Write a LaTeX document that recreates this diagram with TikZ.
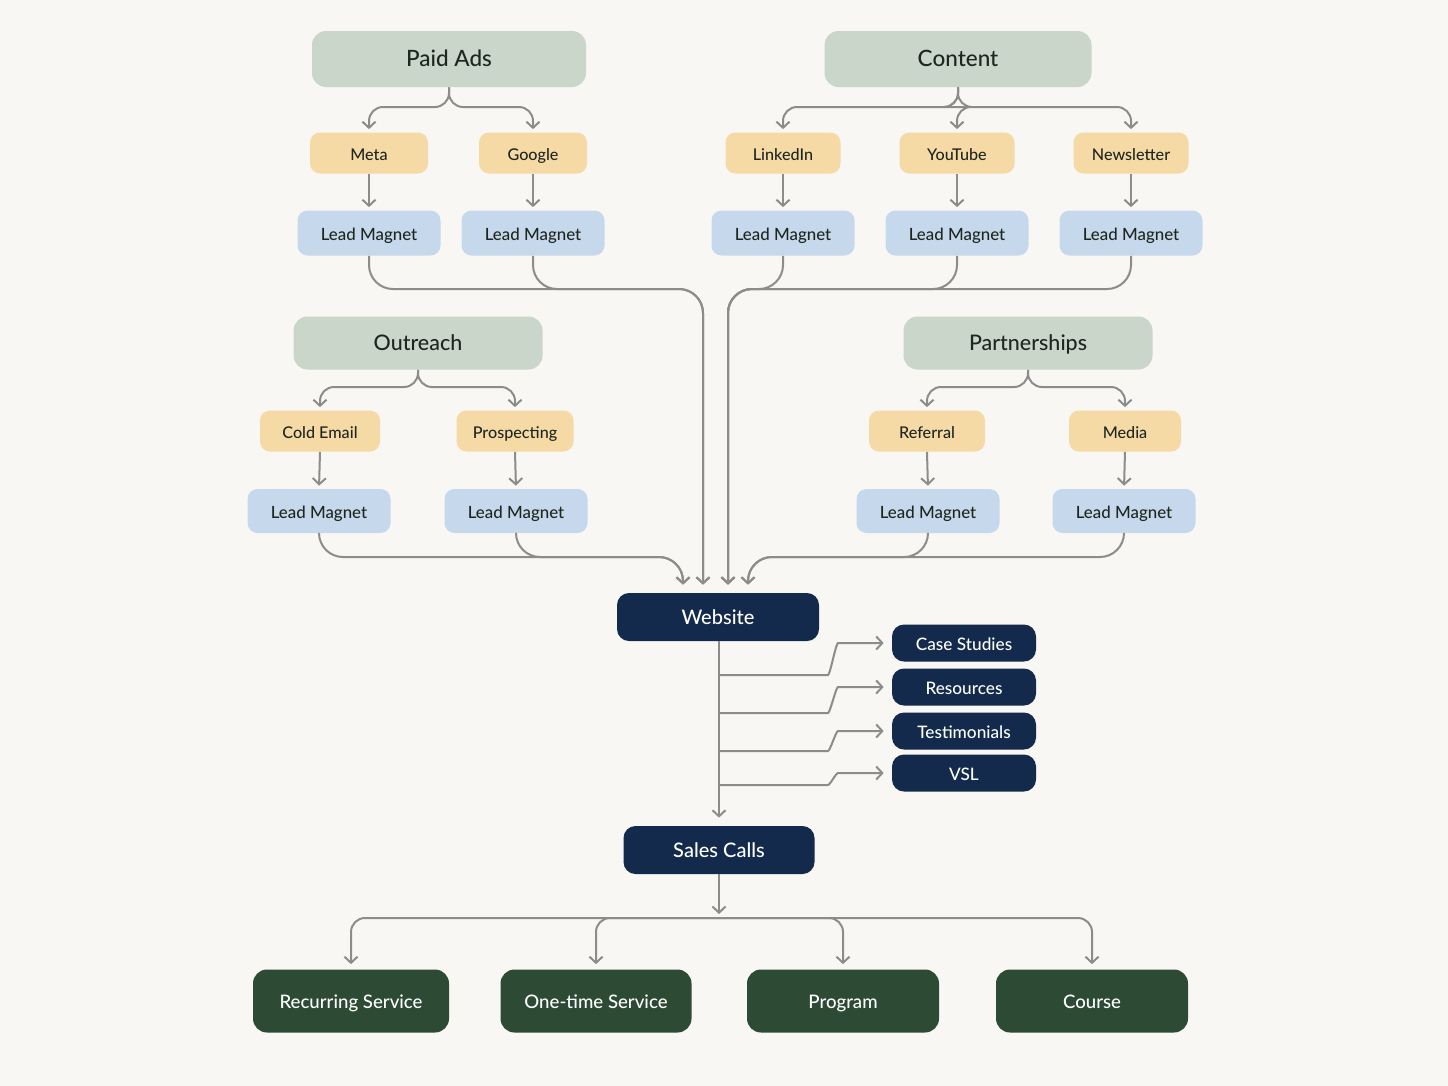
\documentclass[tikz,border=0pt]{standalone}
\usepackage{fontspec}
\setmainfont{Lato}[UprightFont={* Medium}]
\usetikzlibrary{arrows.meta}

\def\px{0.02cm}

\definecolor{paper}{HTML}{F8F7F3}
\definecolor{sage}{HTML}{C9D6C9}
\definecolor{sand}{HTML}{F6DAA6}
\definecolor{sky}{HTML}{C6D8EB}
\definecolor{navy}{HTML}{132A4C}
\definecolor{forest}{HTML}{2D4A35}
\definecolor{wire}{HTML}{8C8C8C}
\definecolor{ink}{HTML}{1E2620}

\tikzset{
  every node/.style={text height=2ex, text depth=.3ex},
  channel/.style={rounded corners=14*\px, fill=sage, text=ink, minimum height=56*\px,
    font=\fontsize{12.8}{15}\selectfont},
  source/.style={rounded corners=10*\px, fill=sand, text=ink, minimum height=41*\px,
    font=\fontsize{9.2}{11}\selectfont},
  magnet/.style={rounded corners=10*\px, fill=sky, text=ink, minimum height=45*\px,
    minimum width=143*\px, font=\fontsize{9.6}{11}\selectfont},
  hub/.style={rounded corners=12*\px, fill=navy, text=white, minimum height=48*\px,
    font=\fontsize{11.4}{13}\selectfont},
  asset/.style={rounded corners=12*\px, fill=navy, text=white, minimum height=37*\px,
    minimum width=144*\px, font=\fontsize{9.8}{11}\selectfont},
  offer/.style={rounded corners=14*\px, fill=forest, text=white, minimum height=63*\px,
    font=\fontsize{10.6}{12}\selectfont},
  link/.style={draw=wire, line width=2*\px, rounded corners=14*\px},
  arr/.style={link, -{Straight Barb[length=3.5pt,width=7.5pt]}, shorten >=3*\px}
}

\begin{document}
\begin{tikzpicture}[x=\px, y=-\px]
\fill[paper] (0,0) rectangle (1448,1086);
\useasboundingbox (0,0) rectangle (1448,1086);

% channels
\node[channel, minimum width=274*\px] (paid) at (449,59) {Paid Ads};
\node[channel, minimum width=267*\px] (content) at (958,59) {Content};
\node[channel, minimum width=249*\px, minimum height=53*\px, font=\fontsize{12.2}{14}\selectfont] (outreach) at (418,343) {Outreach};
\node[channel, minimum width=249*\px, minimum height=53*\px, font=\fontsize{12.2}{14}\selectfont] (partners) at (1028,343) {Partnerships};

% sources
\node[source, minimum width=118*\px] (meta) at (369,153) {Meta};
\node[source, minimum width=108*\px] (google) at (533,153) {Google};
\node[source, minimum width=115*\px] (linkedin) at (783,153) {LinkedIn};
\node[source, minimum width=115*\px] (youtube) at (957,153) {YouTube};
\node[source, minimum width=115*\px] (newsletter) at (1131,153) {Newsletter};
\node[source, minimum width=120*\px] (coldemail) at (320,431) {Cold Email};
\node[source, minimum width=117*\px] (prospect) at (515,431) {Prospecting};
\node[source, minimum width=116*\px] (referral) at (927,431) {Referral};
\node[source, minimum width=112*\px] (media) at (1125,431) {Media};

% lead magnets
\node[magnet] (lmMeta) at (369,233) {Lead Magnet};
\node[magnet] (lmGoogle) at (533,233) {Lead Magnet};
\node[magnet] (lmLinkedin) at (783,233) {Lead Magnet};
\node[magnet] (lmYoutube) at (957,233) {Lead Magnet};
\node[magnet] (lmNews) at (1131,233) {Lead Magnet};
\node[magnet, minimum height=44*\px] (lmCold) at (319,511) {Lead Magnet};
\node[magnet, minimum height=44*\px] (lmProspect) at (516,511) {Lead Magnet};
\node[magnet, minimum height=44*\px] (lmReferral) at (928,511) {Lead Magnet};
\node[magnet, minimum height=44*\px] (lmMedia) at (1124,511) {Lead Magnet};

% website and assets
\node[hub, minimum width=202*\px] (website) at (718,617) {Website};
\node[asset] (cases) at (964,643) {Case Studies};
\node[asset] (resources) at (964,687) {Resources};
\node[asset] (testimonials) at (964,731) {Testimonials};
\node[asset] (vsl) at (964,773) {VSL};
\node[hub, minimum width=191*\px] (sales) at (719,850) {Sales Calls};

% offers
\node[offer, minimum width=196*\px] (recurring) at (351,1001) {Recurring Service};
\node[offer, minimum width=191*\px] (onetime) at (596,1001) {One-time Service};
\node[offer, minimum width=192*\px] (program) at (843,1001) {Program};
\node[offer, minimum width=192*\px] (course) at (1092,1001) {Course};

% forks under channels
\coordinate (paidFork) at (449,107);
\coordinate (contentFork) at (958,107);
\coordinate (outreachFork) at (418,387);
\coordinate (partnersFork) at (1028,387);
\foreach \kid in {meta, google} \draw[arr] (paid.south) -- (paidFork) -| (\kid.north);
\foreach \kid in {linkedin, youtube, newsletter} \draw[arr] (content.south) -- (contentFork) -| (\kid.north);
\foreach \kid in {coldemail, prospect} \draw[arr] (outreach.south) -- (outreachFork) -| (\kid.north);
\foreach \kid in {referral, media} \draw[arr] (partners.south) -- (partnersFork) -| (\kid.north);

% sources to lead magnets
\foreach \src/\lm in {meta/lmMeta, google/lmGoogle, linkedin/lmLinkedin, youtube/lmYoutube,
  newsletter/lmNews, coldemail/lmCold, prospect/lmProspect, referral/lmReferral, media/lmMedia}
  \draw[arr] (\src.south) -- (\lm.north);

% lead magnets to website
\coordinate (busA) at (703,289);
\coordinate (busB) at (728,289);
\coordinate (busC) at (683,557);
\coordinate (busD) at (748,557);
\foreach \lm/\bus in {lmMeta/busA, lmGoogle/busA, lmNews/busB, lmYoutube/busB, lmLinkedin/busB,
  lmCold/busC, lmProspect/busC, lmMedia/busD, lmReferral/busD}
  \draw[arr, rounded corners=24*\px, shorten >=8*\px] (\lm.south) |- (\bus) -- (\bus |- website.north);

% website to assets and sales calls
\draw[arr, shorten >=8*\px] (719,641) -- (sales.north);
\foreach \tgt/\ty/\yy in {cases/675/643, resources/713/687, testimonials/751/731, vsl/785/773}
  \draw[arr, shorten >=8*\px] (719,\ty) -- (814,\ty) .. controls (830,\ty) and (836,\yy) .. (852,\yy) -- (\tgt.west);

% sales calls to offers
\coordinate (offerBus) at (719,918);
\draw[arr, shorten >=4*\px] (sales.south) -- (offerBus);
\foreach \kid in {recurring, onetime, program, course}
  \draw[arr, shorten >=5*\px] (offerBus) -| (\kid.north);
\end{tikzpicture}
\end{document}
